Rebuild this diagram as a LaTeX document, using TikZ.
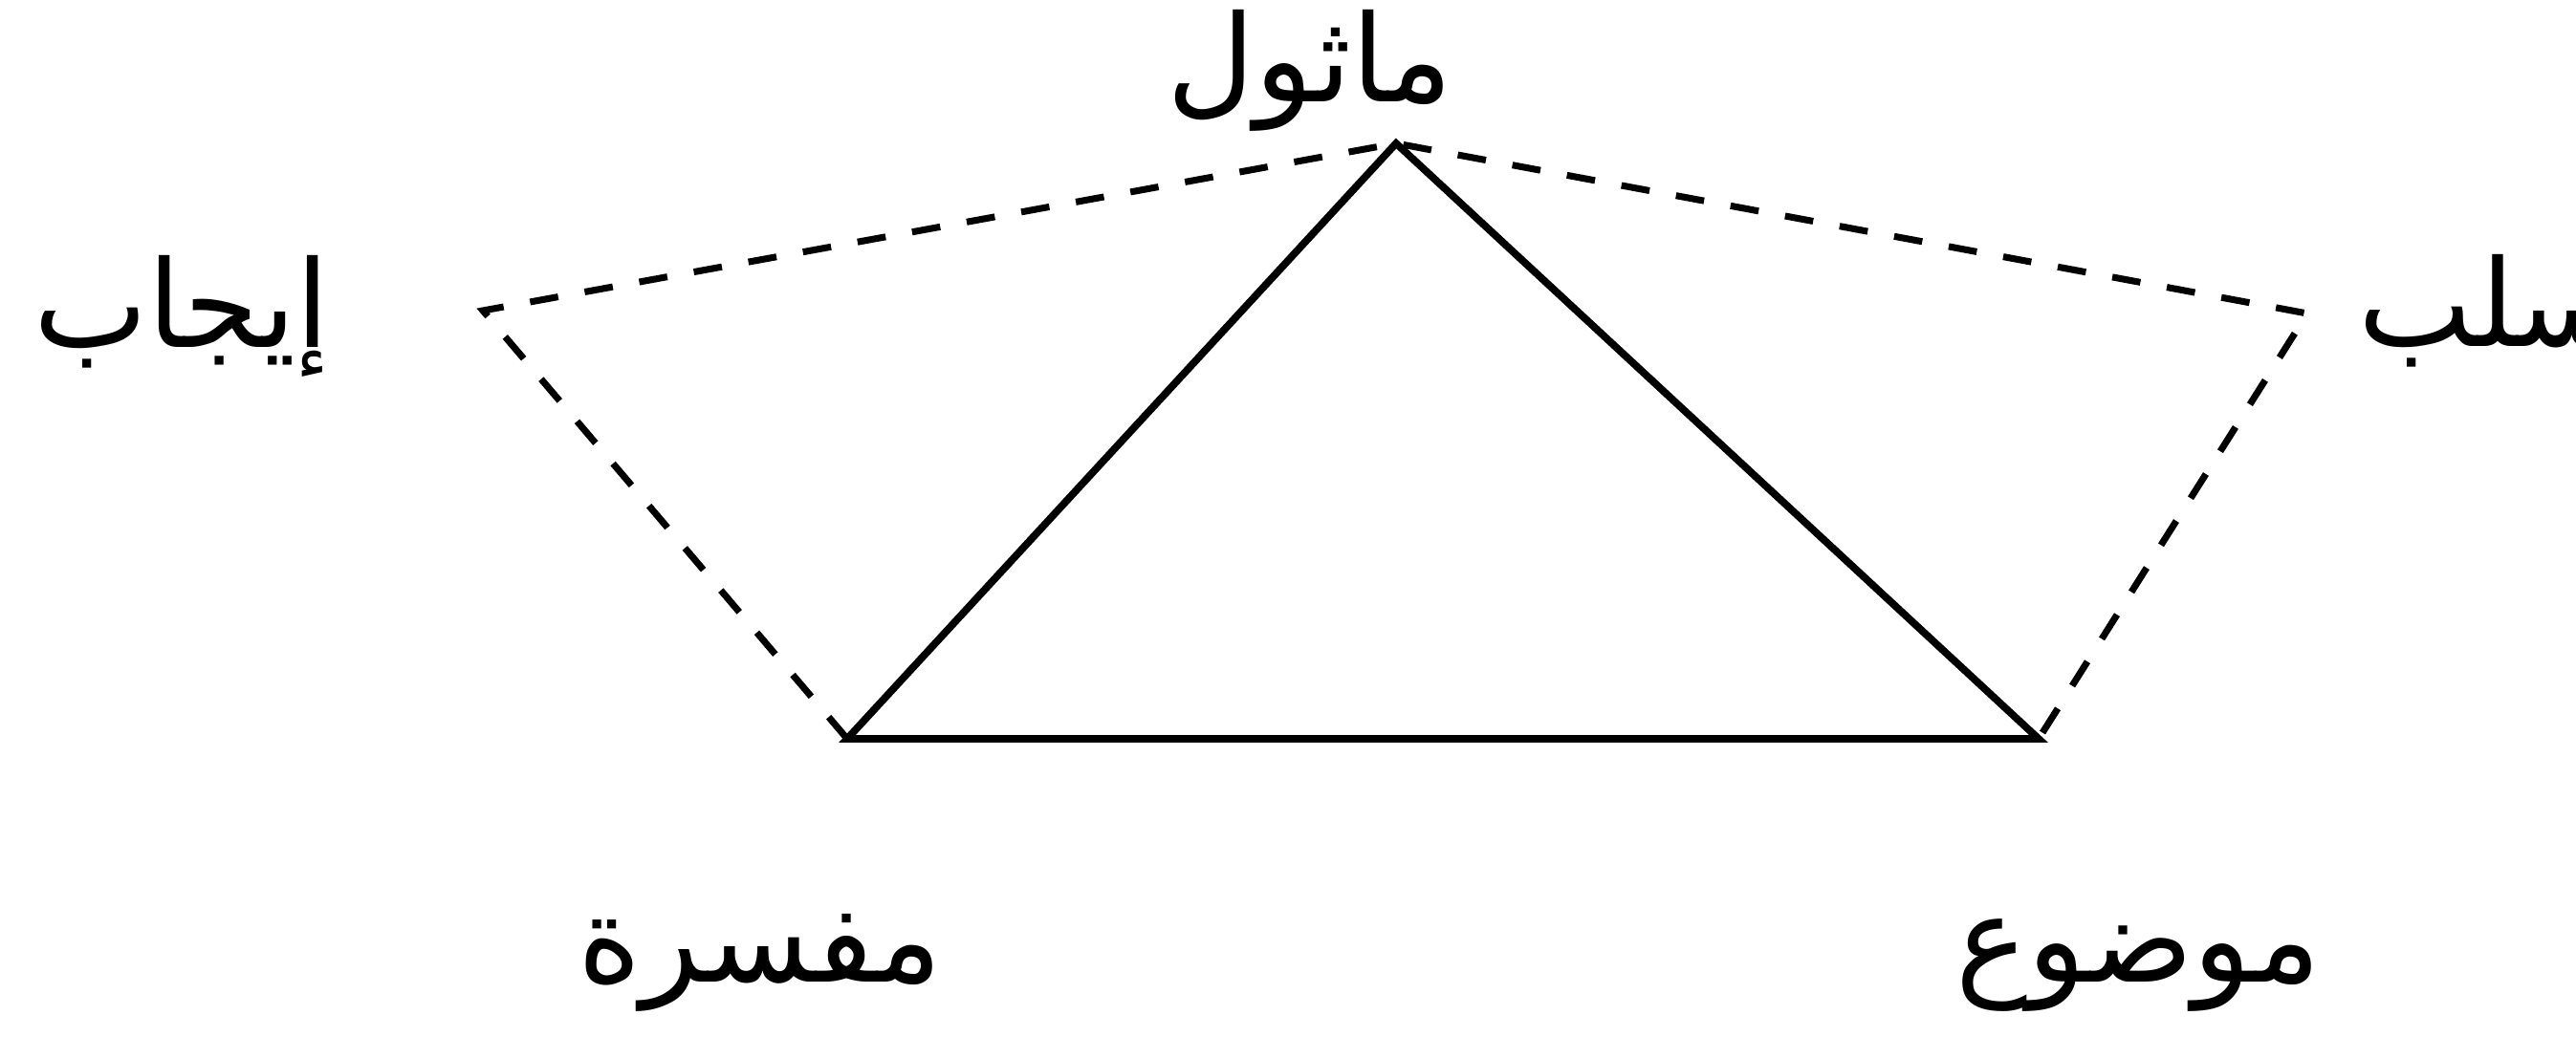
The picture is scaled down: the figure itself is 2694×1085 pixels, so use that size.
\documentclass[tikz,border=0pt]{standalone}
\usepackage{fontspec}
\newfontfamily\arabicfont[Script=Arabic]{DejaVu Sans}
\TeXXeTstate=1
\begin{document}
\begin{tikzpicture}[x=0.01cm,y=-0.01cm,
  solidedge/.style={line width=2.2pt,line join=miter},
  dashededge/.style={line width=2pt,dash pattern=on 8.5pt off 8pt},
  lbl/.style={inner sep=0pt,font=\arabicfont\fontsize{36}{40}\selectfont}]
\useasboundingbox (0,0) rectangle (2694,1085);
\fill[white] (0,0) rectangle (2694,1085);
\coordinate (apex) at (1460,150);
\coordinate (bl) at (886,773);
\coordinate (br) at (2132,773);
\coordinate (pl) at (505,325);
\coordinate (pr) at (2413,328);
\draw[solidedge] (bl) -- (apex) -- (br) -- cycle;
\draw[dashededge] (bl) -- (pl) -- (apex) -- (pr) -- (br);
\begin{scope}
\clip (0,0) rectangle (2694,1085);
\node[lbl,anchor=base] (mathul) at (1370,107) {\beginR ماثول\endR};
\node[lbl,anchor=base] (ijab) at (190,363) {\beginR إيجاب\endR};
\node[lbl,anchor=base west] (salb) at (2466,362) {\beginR سلب\endR};
\node[lbl,anchor=base] (mufassira) at (795,1027) {\beginR مفسرة\endR};
\node[lbl,anchor=base] (mawdu) at (2236,1027) {\beginR موضوع\endR};
\end{scope}
\end{tikzpicture}
\end{document}
